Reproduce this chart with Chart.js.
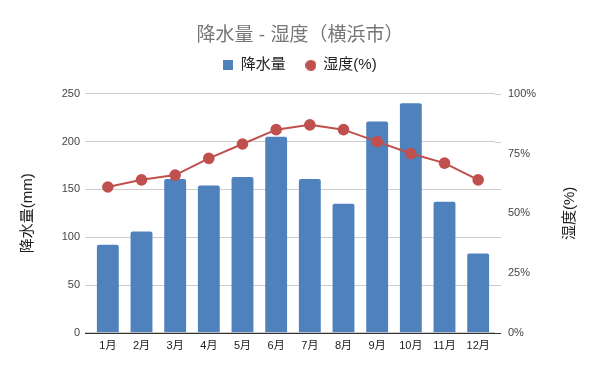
<!DOCTYPE html>
<html>
<head>
<meta charset="utf-8">
<script src="https://cdn.jsdelivr.net/npm/chart.js@4"></script>
<style>
html,body{margin:0;padding:0;background:#fff;}
#wrap{width:600px;height:371px;}
</style>
</head>
<body>
<div id="wrap"><canvas id="c" width="600" height="371"></canvas></div>
<script>
const months = ["1月","2月","3月","4月","5月","6月","7月","8月","9月","10月","11月","12月"];
const rainfall = [92, 106, 161, 154, 163, 205, 161, 135, 221, 240, 137, 83];
const humidity = [61, 64, 66, 73, 79, 85, 87, 85, 80, 75, 71, 64];
const titleText = "降水量 - 湿度（横浜市）";
const rainLabel = "降水量";
const humLabel = "湿度(%)";
const leftAxisTitle = "降水量(mm)";
const rightAxisTitle = "湿度(%)";

const BLUE = '#4F81BD';
const RED = '#C0504D';
const FONT = "'Liberation Sans','Noto Sans CJK JP',Arial,sans-serif";

function makeIcon(shape, color, size) {
  const cv = document.createElement('canvas');
  cv.width = size; cv.height = size;
  const g = cv.getContext('2d');
  g.fillStyle = color;
  if (shape === 'circle') {
    g.beginPath(); g.arc(size / 2, size / 2, size / 2, 0, Math.PI * 2); g.fill();
  } else {
    g.fillRect(0, 0, size, size);
  }
  return cv;
}
const squareIcon = makeIcon('rect', BLUE, 10);
const circleIcon = makeIcon('circle', RED, 11);

const extrasPlugin = {
  id: 'extras',
  afterInit(chart) {
    const lg = chart.legend;
    if (lg && !lg._patched) {
      const orig = lg.fit.bind(lg);
      lg.fit = function () { orig(); this.height += 11; };
      lg._patched = true;
    }
  },
  afterDatasetsDraw(chart) {
    const ctx = chart.ctx;
    const area = chart.chartArea;
    const ys = chart.scales.y;
    ctx.save();
    ctx.strokeStyle = '#cccccc';
    ctx.lineWidth = 1;
    ys.ticks.forEach(t => {
      if (t.value === 0) return;
      const y = Math.round(ys.getPixelForValue(t.value)) + 0.5;
      ctx.beginPath();
      ctx.moveTo(area.right, y);
      ctx.lineTo(area.right + 6, y);
      ctx.stroke();
    });
    const y0 = Math.round(ys.getPixelForValue(0)) + 0.5;
    ctx.strokeStyle = '#333333';
    ctx.beginPath();
    ctx.moveTo(area.left - 6, y0);
    ctx.lineTo(area.right + 6, y0);
    ctx.stroke();
    ctx.restore();
  },
  afterDraw(chart) {
    const ctx = chart.ctx;
    const area = chart.chartArea;
    ctx.save();
    ctx.translate(570, (area.top + area.bottom) / 2);
    ctx.rotate(-Math.PI / 2);
    ctx.font = "15px " + FONT;
    ctx.fillStyle = "#222";
    ctx.textAlign = "center";
    ctx.textBaseline = "middle";
    ctx.fillText(rightAxisTitle, 0, 0);
    ctx.restore();
  }
};

const chart = new Chart(document.getElementById('c'), {
  data: {
    labels: months,
    datasets: [
      {
        type: 'line',
        label: humLabel,
        data: humidity,
        yAxisID: 'y1',
        borderColor: RED,
        backgroundColor: RED,
        borderWidth: 2,
        pointRadius: 5.8,
        pointHoverRadius: 5.8,
        pointBorderWidth: 0,
        order: 0
      },
      {
        type: 'bar',
        label: rainLabel,
        data: rainfall,
        yAxisID: 'y',
        backgroundColor: BLUE,
        borderRadius: 2,
        borderSkipped: 'bottom',
        barPercentage: 0.65,
        categoryPercentage: 1.0,
        order: 1
      }
    ]
  },
  options: {
    responsive: false,
    devicePixelRatio: 1,
    animation: false,
    layout: { padding: { left: 0, right: 0, top: 0, bottom: 11 } },
    plugins: {
      title: {
        display: true,
        text: titleText,
        color: '#767676',
        font: { family: FONT, size: 19, weight: 'normal' },
        padding: { top: 24, bottom: -9 }
      },
      legend: {
        display: true,
        reverse: true,
        labels: {
          usePointStyle: true,
          boxWidth: 10,
          boxHeight: 10,
          color: '#222',
          font: { family: FONT, size: 15 },
          padding: 20,
          generateLabels(chart) {
            const items = Chart.defaults.plugins.legend.labels.generateLabels(chart);
            items.forEach(it => {
              it.pointStyle = (it.datasetIndex === 0) ? circleIcon : squareIcon;
            });
            return items;
          }
        }
      },
      tooltip: { enabled: false }
    },
    scales: {
      x: {
        grid: { display: false, drawTicks: false },
        border: { display: false },
        ticks: { color: '#222', font: { family: FONT, size: 11 }, padding: 7, maxRotation: 0, autoSkip: false }
      },
      y: {
        position: 'left',
        min: 0, max: 250,
        afterFit(scale) { scale.width = 91; },
        ticks: { stepSize: 50, color: '#444', font: { family: FONT, size: 11 }, padding: 5 },
        grid: { color: '#cccccc', drawTicks: true, tickLength: 6 },
        border: { display: false },
        title: { display: true, text: leftAxisTitle, color: '#222', font: { family: FONT, size: 15 }, padding: { top: 19, bottom: 24 } }
      },
      y1: {
        position: 'right',
        min: 0, max: 100,
        afterFit(scale) { scale.width = 105; },
        ticks: { stepSize: 25, color: '#444', font: { family: FONT, size: 11 }, padding: 13, callback: v => v + '%' },
        grid: { display: false, drawTicks: false },
        border: { display: false }
      }
    }
  },
  plugins: [extrasPlugin]
});
chart.update();
</script>
</body>
</html>
